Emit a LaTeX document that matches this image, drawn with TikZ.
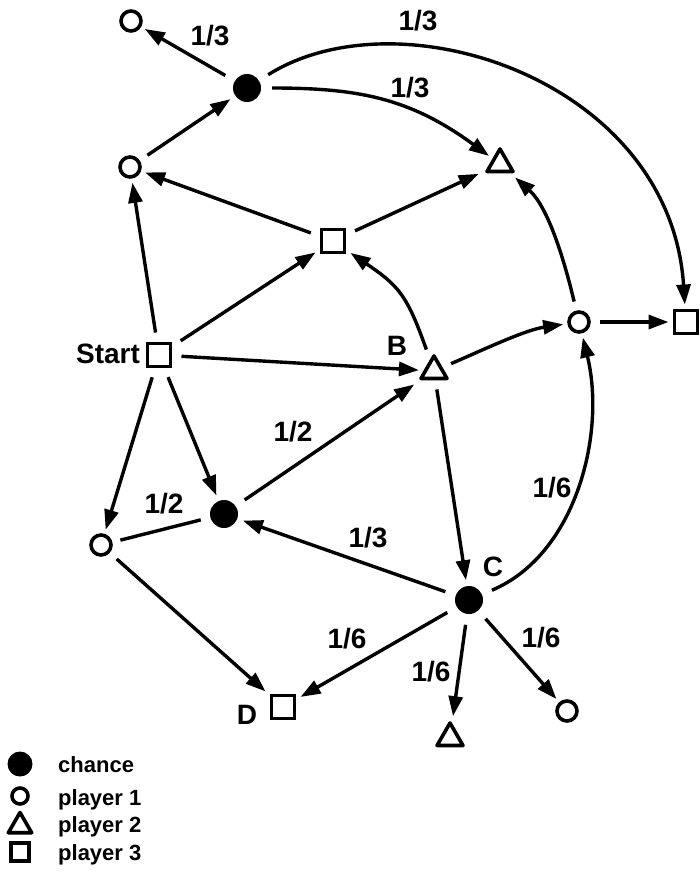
\documentclass[tikz,border=0pt]{standalone}
\usepackage{fontspec}
\setmainfont{Liberation Sans}
\usetikzlibrary{arrows.meta,shapes.geometric}
\begin{document}
\begin{tikzpicture}[x=1pt,y=-1pt,
  p1/.style={circle,draw,line width=3.6pt,minimum size=20pt,inner sep=0pt,outer sep=6pt},
  chance/.style={circle,fill,minimum size=28pt,inner sep=0pt,outer sep=6pt},
  p2/.style={regular polygon,regular polygon sides=3,draw,line width=3.6pt,line join=round,minimum size=30pt,inner sep=0pt,outer sep=6pt},
  p3/.style={rectangle,draw,line width=3.6pt,minimum size=23pt,inner sep=0pt,outer sep=6pt},
  arr/.style={line width=3.4pt,-{Triangle[length=20pt,width=14pt]},shorten <=5pt},
  lnk/.style={line width=3.4pt,shorten <=4pt,shorten >=4pt},
  lab/.style={font=\fontsize{28}{32}\selectfont\bfseries,inner sep=0pt},
  leg/.style={font=\fontsize{22}{26}\selectfont\bfseries,anchor=base west,inner sep=0pt},
]
\useasboundingbox (0,0) rectangle (699,880);

% game nodes
\node[p1] (o1) at (131,21) {};
\node[chance] (ch1) at (247,88) {};
\node[p1] (o2) at (130,167) {};
\node[p2] (t1) at (500,164) {};
\node[p3] (s1) at (333,241) {};
\node[p1] (o3) at (579,322) {};
\node[p3] (sr) at (686,322) {};
\node[p3] (st) at (159,355) {};
\node[p2] (b) at (434,371) {};
\node[chance] (ch2) at (224,514) {};
\node[p1] (o4) at (101,545) {};
\node[chance] (c) at (469,600) {};
\node[p3] (d) at (283,707) {};
\node[p2] (tb) at (450,738) {};
\node[p1] (ob) at (567,711) {};

% text labels
\node[lab] (lstart) at (108,354) {Start};
\node[lab] (lb) at (397,346) {B};
\node[lab] (lc) at (493,567) {C};
\node[lab] (ld) at (247,715) {D};

\node[lab] (q1) at (210,36) {1/3};
\node[lab] (q2) at (418,21) {1/3};
\node[lab] (q3) at (410,88) {1/3};
\node[lab] (q4) at (293,432) {1/2};
\node[lab] (q5) at (164,504) {1/2};
\node[lab] (q6) at (368,538) {1/3};
\node[lab] (q7) at (552,488) {1/6};
\node[lab] (q8) at (347,639) {1/6};
\node[lab] (q9) at (431,672) {1/6};
\node[lab] (q10) at (541,638) {1/6};

% straight connectors
\draw[arr] (ch1) -- (o1);
\draw[arr] (o2) -- (ch1);
\draw[arr] (s1) -- (o2);
\draw[arr] (s1) -- (t1);
\draw[arr] (st) -- (o2);
\draw[arr] (st) -- (s1);
\draw[arr] (st) -- (b);
\draw[arr] (st) -- (o4);
\draw[arr] (st) -- (ch2);
\draw[arr] (b) -- (c);
\draw[arr] (ch2) -- (b);
\draw[lnk] (ch2) -- (o4);
\draw[arr] (c) -- (ch2);
\draw[arr] (c) -- (d);
\draw[arr] (c) -- (tb);
\draw[arr] (c) -- (ob);
\draw[arr] (o4) -- (d);
\draw[arr] (o3) -- (sr);

% curved connectors
\draw[arr] (ch1) .. controls (358,88) and (410,98) .. (t1);
\draw[arr] (ch1) .. controls (400,-8) and (670,80) .. (sr);
\draw[arr] (b) .. controls (407,295) and (399,286) .. (s1);
\draw[arr] (b) .. controls (485,349) and (525,330) .. (o3);
\draw[arr] (o3) .. controls (564,259) and (548,207) .. (t1);
\draw[arr] (c) .. controls (577,554) and (606,432) .. (o3);

% legend
\node[chance,minimum size=25pt] (k1) at (20,764) {};
\node[p1,minimum size=16pt] (k2) at (20,796) {};
\node[p2,minimum size=27pt] (k3) at (20,826) {};
\node[p3,minimum size=18pt] (k4) at (20,852) {};
\node[leg] (t1l) at (58,772) {chance};
\node[leg] (t2l) at (58,805) {player 1};
\node[leg] (t3l) at (58,832) {player 2};
\node[leg] (t4l) at (58,860) {player 3};
\end{tikzpicture}
\end{document}
